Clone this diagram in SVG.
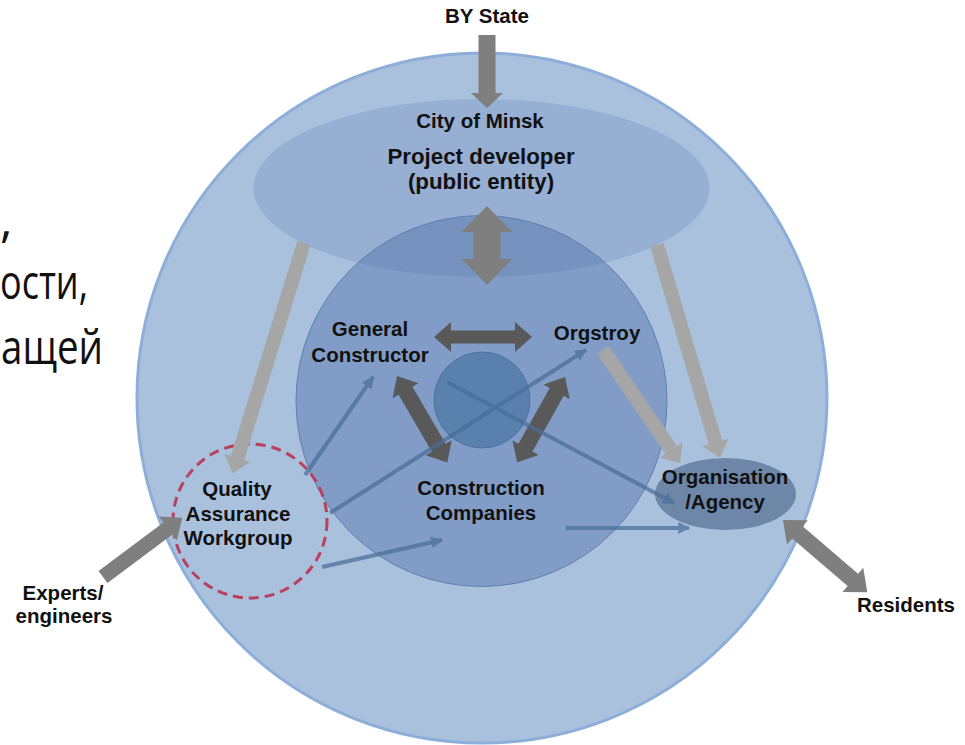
<svg xmlns="http://www.w3.org/2000/svg" width="965" height="745" viewBox="0 0 965 745">
<defs>
<style>
.lbl{font-family:"Liberation Sans",Arial,sans-serif;font-weight:bold;font-size:20.5px;fill:#111;text-anchor:middle}
.big{font-size:22.3px}
.ru{font-family:"Open Sans","Noto Sans",sans-serif;font-size:48px;fill:#111}
.thin{stroke:#4a6d99;stroke-width:4;fill:none;marker-end:url(#th)}
.dk{fill:#595959}
.md{fill:#7f7f7f}
.lt{fill:#a6a6a6}
</style>
<marker id="th" viewBox="0 0 10 10" refX="9" refY="5" markerWidth="12" markerHeight="12" markerUnits="userSpaceOnUse" orient="auto">
<path d="M0,0 L10,5 L0,10 Z" fill="#4a6d99"/>
</marker>
</defs>
<rect width="965" height="745" fill="#fff"/>
<g id="slide-text">
<text class="ru" x="0" y="237">,</text>
<text class="ru" x="0" y="299" textLength="88" lengthAdjust="spacingAndGlyphs">ости,</text>
<text class="ru" x="1" y="364" textLength="102" lengthAdjust="spacingAndGlyphs">ащей</text>
</g>
<g id="city-of-minsk">
<circle cx="482" cy="398" r="345" fill="#aac1de" stroke="#8caed9" stroke-width="3"/>
</g>
<g id="project-developer">
<ellipse cx="481.5" cy="188" rx="228" ry="89" fill="#96afd2"/>
<text class="lbl" x="480" y="128">City of Minsk</text>
<text class="lbl big" x="481" y="164">Project developer</text>
<text class="lbl big" x="481" y="189">(public entity)</text>
</g>
<g id="core">
<circle cx="481.5" cy="401" r="185.5" fill="#4f71aa" fill-opacity="0.45" stroke="#5f7fb2" stroke-width="1"/>
<circle cx="482" cy="400" r="48" fill="#5a80ad" stroke="#4d72a0" stroke-width="1"/>
</g>
<g id="general-constructor">
<text class="lbl" x="370" y="336">General</text>
<text class="lbl" x="370" y="362">Constructor</text>
</g>
<g id="orgstroy">
<text class="lbl" x="597" y="340">Orgstroy</text>
</g>
<g id="construction-companies">
<text class="lbl" x="481" y="495">Construction</text>
<text class="lbl" x="481" y="520">Companies</text>
</g>
<g id="organisation-agency">
<ellipse cx="725.5" cy="494" rx="70.5" ry="36" fill="#6e87a8"/>
<text class="lbl" x="725" y="484">Organisation</text>
<text class="lbl" x="725" y="509">/Agency</text>
</g>
<g id="quality-assurance">
<circle cx="250" cy="521" r="77" fill="none" stroke="#b9405f" stroke-width="3" stroke-dasharray="10,6"/>
<text class="lbl" x="237" y="496">Quality</text>
<text class="lbl" x="238" y="521">Assurance</text>
<text class="lbl" x="238" y="545">Workgroup</text>
</g>
<g id="by-state">
<text class="lbl" x="487" y="23">BY State</text>
</g>
<g id="experts">
<text class="lbl" x="63" y="600">Experts/</text>
<text class="lbl" x="64" y="623">engineers</text>
</g>
<g id="residents">
<text class="lbl" x="906" y="612">Residents</text>
</g>
<g id="connectors">
<path class="md" transform="translate(487,35) rotate(90)" d="M0,-8.5 L58,-8.5 L58,-16 L73,0 L58,16 L58,8.5 L0,8.5 Z"/>
<path class="md" transform="translate(487,206) rotate(90)" d="M0,0 L26,-25.5 L26,-13.5 L53,-13.5 L53,-25.5 L79,0 L53,25.5 L53,13.5 L26,13.5 L26,25.5 Z"/>
<path class="dk" transform="translate(434,337)" d="M0,0 L17,-15 L17,-6.5 L81,-6.5 L81,-15 L98,0 L81,15 L81,6.5 L17,6.5 L17,15 Z"/>
<path class="dk" transform="translate(397,376) rotate(59.8)" d="M0,0 L17,-15 L17,-8 L83,-8 L83,-15 L100,0 L83,15 L83,8 L17,8 L17,15 Z"/>
<path class="dk" transform="translate(565,377) rotate(119.2)" d="M0,0 L17,-15 L17,-8 L81,-8 L81,-15 L98,0 L81,15 L81,8 L17,8 L17,15 Z"/>
<path class="lt" transform="translate(304,243) rotate(107.2)" d="M0,-7 L225,-7 L225,-13.5 L241,0 L225,13.5 L225,7 L0,7 Z"/>
<path class="lt" transform="translate(657,245) rotate(73.5)" d="M0,-7 L206,-7 L206,-13.5 L222,0 L206,13.5 L206,7 L0,7 Z"/>
<path class="lt" transform="translate(603,350) rotate(55.7)" d="M0,-7 L121,-7 L121,-13.5 L137,0 L121,13.5 L121,7 L0,7 Z"/>
<path class="md" transform="translate(103,577) rotate(-36.75)" d="M0,-7.5 L81,-7.5 L81,-15 L99,0 L81,15 L81,7.5 L0,7.5 Z"/>
<path class="md" transform="translate(783,520) rotate(40.6)" d="M0,0 L19,-16 L19,-8 L92,-8 L92,-16 L111,0 L92,16 L92,8 L19,8 L19,16 Z"/>
<g opacity="0.72">
<line class="thin" x1="305" y1="475" x2="373" y2="377"/>
<line class="thin" x1="330" y1="513" x2="586" y2="350"/>
<line class="thin" x1="322" y1="567" x2="442" y2="540"/>
<line class="thin" x1="447" y1="382" x2="674" y2="503"/>
<line class="thin" x1="566" y1="528" x2="689" y2="528"/>
</g>
</g>
</svg>
